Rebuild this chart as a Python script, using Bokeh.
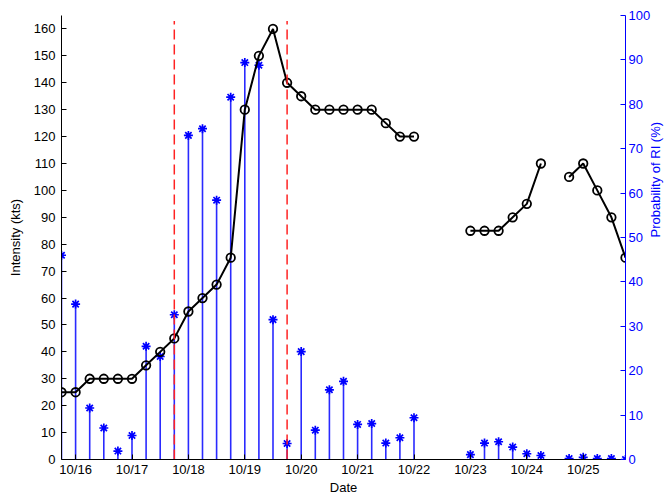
import math
import numpy as np
from bokeh.plotting import figure
from bokeh.models import Range1d, LinearAxis, FixedTicker
from bokeh.embed import file_html
from bokeh.resources import INLINE

# ---- data (time in days since 10/16 00Z, 6-hourly) ----
times = [-0.25, 0.0, 0.25, 0.5, 0.75, 1.0, 1.25, 1.5, 1.75, 2.0, 2.25, 2.5, 2.75,
         3.0, 3.25, 3.5, 3.75, 4.0, 4.25, 4.5, 4.75, 5.0, 5.25, 5.5, 5.75, 6.0,
         6.25, 6.5, 6.75, 7.0, 7.25, 7.5, 7.75, 8.0, 8.25, 8.5, 8.75, 9.0, 9.25,
         9.5, 9.75]
nan = float("nan")
intensity = [25, 25, 30, 30, 30, 30, 35, 40, 45, 55, 60, 65, 75,
             130, 150, 160, 140, 135, 130, 130, 130, 130, 130, 125, 120, 120,
             nan, nan, nan, 85, 85, 85, 90, 95, 110, nan, 105, 110, 100,
             90, 75]
ri_prob = [46, 35, 11.6, 7.1, 1.9, 5.4, 25.5, 23.2, 32.6, 73, 74.5, 58.4, 81.6,
           89.4, 88.8, 31.5, 3.6, 24.3, 6.6, 15.7, 17.6, 7.9, 8.1, 3.7, 4.9, 9.4,
           nan, nan, nan, 1.1, 3.7, 4.0, 2.8, 1.3, 0.9, nan, 0.2, 0.5, 0.2,
           0.2, 0.0]
ri_window = [1.75, 3.75]
date_ticks = [0, 1, 2, 3, 4, 5, 6, 7, 8, 9]
date_labels = ["10/16", "10/17", "10/18", "10/19", "10/20", "10/21", "10/22",
               "10/23", "10/24", "10/25"]
int_ticks = list(range(0, 161, 10))
ri_ticks = list(range(0, 101, 10))

FONT = "Liberation Sans"
FS = "13px"

p = figure(frame_width=564, frame_height=444, x_range=Range1d(-0.25, 9.75),
           y_range=Range1d(0, 165), output_backend="svg", toolbar_location=None,
           min_border_left=61, min_border_right=44, min_border_top=15,
           min_border_bottom=38)
p.extra_y_ranges = {"ri": Range1d(0, 100)}
p.outline_line_color = None
p.grid.visible = False
p.background_fill_color = "white"

# stems of RI probability
t_arr = np.array(times, dtype=float)
ri_arr = np.array(ri_prob, dtype=float)
ok = ~np.isnan(ri_arr)
p.segment(x0=t_arr[ok], y0=np.zeros(ok.sum()), x1=t_arr[ok], y1=ri_arr[ok],
          y_range_name="ri", line_color="#2a2aff", line_width=1.6)
p.scatter(t_arr[ok], ri_arr[ok], y_range_name="ri", marker="asterisk",
          size=9, line_color="#0000ff", line_width=1.7)

# intensity line
p.line(times, intensity, line_color="black", line_width=2)
p.scatter(times, intensity, marker="circle", size=8.5, line_color="black",
          fill_color=None, line_width=1.8)

# RI window lines
p.segment(x0=ri_window, y0=[0, 0], x1=ri_window, y1=[163, 163],
          line_color="#ff2222", line_width=1.5, line_dash="10 5")

# axes
xa = p.xaxis[0]
xa.ticker = FixedTicker(ticks=date_ticks)
xa.major_label_overrides = {t: l for t, l in zip(date_ticks, date_labels)}
xa.axis_label = "Date"
ya = p.yaxis[0]
ya.ticker = FixedTicker(ticks=int_ticks)
ya.axis_label = "Intensity (kts)"

ra = LinearAxis(y_range_name="ri", ticker=FixedTicker(ticks=ri_ticks),
                axis_label="Probability of RI (%)")
p.add_layout(ra, "right")

for ax in (xa, ya, ra):
    ax.minor_tick_line_color = None
    ax.major_tick_in = 5
    ax.major_tick_out = 0
    ax.major_label_text_font = FONT
    ax.major_label_text_font_size = FS
    ax.axis_label_text_font = FONT
    ax.axis_label_text_font_size = FS
    ax.axis_label_text_font_style = "normal"
    ax.axis_line_width = 1

for ax in (xa, ya):
    ax.axis_line_color = "black"
    ax.major_tick_line_color = "black"
    ax.major_label_text_color = "black"
    ax.axis_label_text_color = "black"

ra.axis_line_color = "#0000ff"
ra.major_tick_line_color = "#0000ff"
ra.major_label_text_color = "#0000ff"
ra.axis_label_text_color = "#0000ff"
ra.axis_label_orientation = math.pi / 2

xa.major_label_standoff = 2
xa.axis_label_standoff = 0
ya.major_label_standoff = 6
ya.axis_label_standoff = 8
ra.major_label_standoff = 3
ra.axis_label_standoff = 2

open("out.html", "w").write(file_html(p, INLINE))
